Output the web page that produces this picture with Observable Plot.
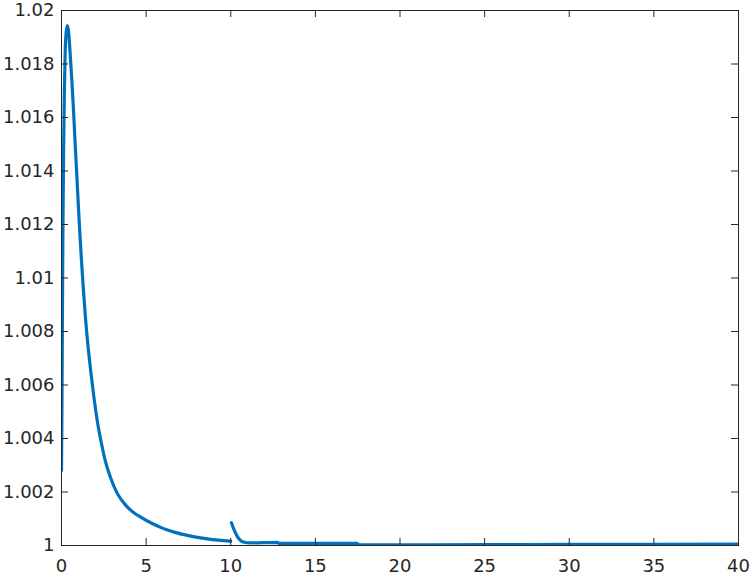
<!DOCTYPE html>
<html>
<head>
<meta charset="utf-8">
<script src="https://cdn.jsdelivr.net/npm/d3@7"></script>
<script src="https://cdn.jsdelivr.net/npm/@observablehq/plot@0.6"></script>
<style>
  html, body { margin: 0; padding: 0; background: #fff; }
  #chart svg { display: block; }
</style>
</head>
<body>
<div id="chart"></div>
<script>
// Segment 1 (t from 0 to 10)
const seg1T = [0, 0.02, 0.05, 0.08, 0.12, 0.17, 0.22, 0.28, 0.35, 0.42, 0.5, 0.6, 0.7, 0.8, 0.9, 1.0, 1.1, 1.2, 1.3, 1.43, 1.6, 1.73, 1.9, 2.12, 2.35, 2.58, 2.9, 3.31, 3.8, 4.2, 4.68, 5.3, 6, 6.65, 7.5, 8.62, 9.3, 10];
const seg1V = [1.0028, 1.0045, 1.008, 1.0115, 1.0145, 1.017, 1.0185, 1.0192, 1.01944, 1.0192, 1.0185, 1.0175, 1.0164, 1.0151, 1.0139, 1.01265, 1.0115, 1.01046, 1.0095, 1.00841, 1.00725, 1.0065, 1.00562, 1.00464, 1.00385, 1.00318, 1.00253, 1.00193, 1.0015, 1.00126, 1.00106, 1.00084, 1.00064, 1.0005, 1.00037, 1.00025, 1.0002, 1.00016];
// Segment 2 (t from 10 to 40)
const seg2T = [10.04, 10.2, 10.4, 10.6, 10.8, 11.1, 12.76, 12.85, 17.45, 17.6, 25, 30, 40];
const seg2V = [1.00085, 1.00058, 1.00032, 1.00018, 1.00012, 1.0001, 1.00012, 1.00008, 1.00008, 1.00002, 1.00003, 1.00004, 1.00005];

const xTicks = [0, 5, 10, 15, 20, 25, 30, 35, 40];
const yTicks = [1, 1.002, 1.004, 1.006, 1.008, 1.01, 1.012, 1.014, 1.016, 1.018, 1.02];

const data = [
  ...seg1T.map((t, i) => ({t, v: seg1V[i], s: 1})),
  ...seg2T.map((t, i) => ({t, v: seg2V[i], s: 2}))
];

const W = 752, H = 578;
const mt = 10, mr = 14, mb = 33, ml = 61;
const pw = W - ml - mr, ph = H - mt - mb;
const tk = 7;
const ink = "#262626";

const chart = Plot.plot({
  width: W, height: H,
  marginTop: mt, marginRight: mr, marginBottom: mb, marginLeft: ml,
  style: {fontFamily: "'DejaVu Sans', sans-serif", fontSize: "18px", background: "#fff", color: ink},
  x: {domain: [0, 40]},
  y: {domain: [1, 1.02]},
  marks: [
    Plot.line(data, {x: "t", y: "v", z: "s", stroke: "#0072BD", strokeWidth: 3.2, curve: "monotone-x", clip: true}),
    Plot.frame({stroke: ink, strokeWidth: 1}),
    Plot.tickX(xTicks, {x: d => d, stroke: ink, insetTop: ph - tk}),
    Plot.tickX(xTicks, {x: d => d, stroke: ink, insetBottom: ph - tk}),
    Plot.tickY(yTicks, {y: d => d, stroke: ink, insetRight: pw - tk}),
    Plot.tickY(yTicks, {y: d => d, stroke: ink, insetLeft: pw - tk}),
    Plot.axisX(xTicks, {tickSize: 0, tickPadding: 14, label: null, fill: ink, fontSize: 18}),
    Plot.axisY(yTicks, {tickSize: 0, tickPadding: 7, label: null, fill: ink, fontSize: 18, tickFormat: d => String(+d.toFixed(3))})
  ]
});
document.getElementById("chart").appendChild(chart);
</script>
</body>
</html>
